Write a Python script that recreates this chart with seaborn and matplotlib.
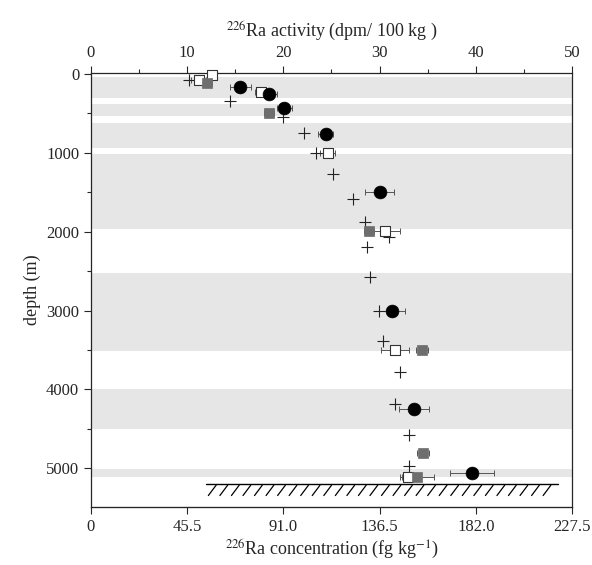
import numpy as np
import pandas as pd
import matplotlib
matplotlib.use("Agg")
import matplotlib.pyplot as plt
from matplotlib.ticker import MultipleLocator
import seaborn as sns

# 226Ra activity (dpm/100 kg) vs depth (m)
circ_act = [15.5, 18.5, 20.1, 24.4, 30.0, 31.3, 33.6, 39.6]
circ_dep = [165, 257, 427, 764, 1502, 3008, 4244, 5059]
circ_err = [1.1, 0.8, 0.8, 0.8, 1.5, 1.35, 1.55, 2.3]

open_act = [12.6, 11.2, 17.7, 24.6, 30.6, 31.6, 33.0]
open_dep = [16, 80, 224, 1008, 1996, 3506, 5110]
open_err = [0.5, 0.8, 0.7, 0.8, 1.5, 1.5, 0.7]

gray_act = [12.1, 18.5, 28.9, 34.4, 34.5, 33.9]
gray_dep = [118, 490, 1996, 3497, 4800, 5112]
gray_err = [0.5, 0.5, 0.5, 0.6, 0.6, 1.8]

plus_act = [10.2, 14.4, 20.0, 22.1, 23.4, 25.2, 27.2, 28.5, 31.0, 28.7,
            29.0, 29.9, 30.4, 32.1, 31.6, 33.1, 33.1]
plus_dep = [80, 342, 544, 755, 1008, 1270, 1586, 1882, 2063, 2198,
            2578, 3000, 3388, 3781, 4190, 4580, 4965]

# shaded depth intervals
band_top = [45, 380, 620, 1010, 2520, 4000, 5015]
band_bot = [305, 530, 940, 1970, 3510, 4500, 5110]

# sea floor
floor_depth = 5200
floor_x = [12.0, 48.5]

conv = 4.55  # dpm/100 kg -> fg/kg
bottom_ticks = [0, 45.5, 91.0, 136.5, 182.0, 227.5]

sns.set_style("ticks")
plt.rcParams['font.family'] = ['Liberation Serif', 'DejaVu Serif']
plt.rcParams['mathtext.fontset'] = 'stix'

fig = plt.figure(figsize=(5.92, 5.65), dpi=100)
ax = fig.add_axes([0.1537, 0.1027, 0.8125, 0.768])

for t, b in zip(band_top, band_bot):
    ax.axhspan(t, b, color='#e6e6e6', lw=0, zorder=0)

# error bars
ax.errorbar(circ_act, circ_dep, xerr=circ_err, fmt='none', ecolor='#555555',
            elinewidth=0.7, capsize=2.5, capthick=0.7, zorder=2)
ax.errorbar(open_act, open_dep, xerr=open_err, fmt='none', ecolor='#555555',
            elinewidth=0.7, capsize=2.5, capthick=0.7, zorder=2)
ax.errorbar(gray_act, gray_dep, xerr=gray_err, fmt='none', ecolor='#555555',
            elinewidth=0.7, capsize=2.5, capthick=0.7, zorder=2)

df_plus = pd.DataFrame({'act': plus_act, 'dep': plus_dep})
df_open = pd.DataFrame({'act': open_act, 'dep': open_dep})
df_gray = pd.DataFrame({'act': gray_act, 'dep': gray_dep})
df_circ = pd.DataFrame({'act': circ_act, 'dep': circ_dep})

sns.scatterplot(data=df_plus, x='act', y='dep', marker='+', s=80, color='#222222',
                linewidth=0.8, ax=ax, zorder=3)
sns.scatterplot(data=df_open, x='act', y='dep', marker='s', s=45, color='white',
                edgecolor='#333333', linewidth=0.8, ax=ax, zorder=3.5, clip_on=False)
sns.scatterplot(data=df_gray, x='act', y='dep', marker='s', s=45, color='#6e6e6e',
                edgecolor='#6e6e6e', linewidth=0.5, ax=ax, zorder=3.6)
sns.scatterplot(data=df_circ, x='act', y='dep', marker='o', s=85, color='black',
                edgecolor='black', linewidth=0.5, ax=ax, zorder=4)

# sea floor line with hatching
ax.plot(floor_x, [floor_depth, floor_depth], color='black', lw=1.0, zorder=3)
for x0 in np.arange(floor_x[0] + 1.0, floor_x[1], 1.2):
    ax.plot([x0, x0 - 0.8], [floor_depth + 15, floor_depth + 145],
            color='black', lw=0.9, zorder=3)

ax.set_xlim(0, 50)
ax.set_ylim(5490, -10)

ax.xaxis.tick_top()
ax.xaxis.set_label_position('top')
ax.xaxis.set_major_locator(MultipleLocator(10))
ax.xaxis.set_minor_locator(MultipleLocator(5))
ax.yaxis.set_major_locator(MultipleLocator(1000))
ax.yaxis.set_minor_locator(MultipleLocator(500))
ax.tick_params(axis='both', which='major', direction='out', length=5, width=0.8,
               labelsize=12)
ax.tick_params(axis='both', which='minor', direction='out', length=3, width=0.8)
ax.set_xlabel(r'$^{226}$Ra activity (dpm/ 100 kg )', fontsize=13, labelpad=6)
ax.set_ylabel('depth (m)', fontsize=13)

sec = ax.secondary_xaxis('bottom', functions=(lambda x: x * conv, lambda x: x / conv))
sec.set_xticks(bottom_ticks)
sec.set_xticklabels(['0', '45.5', '91.0', '136.5', '182.0', '227.5'])
sec.tick_params(direction='out', length=5, width=0.8, labelsize=12)
sec.set_xlabel(r'$^{226}$Ra concentration (fg kg$^{-1}$)', fontsize=13, labelpad=2)

for s in ax.spines.values():
    s.set_linewidth(0.9)
    s.set_visible(True)

fig.savefig('out.png', dpi=100)
